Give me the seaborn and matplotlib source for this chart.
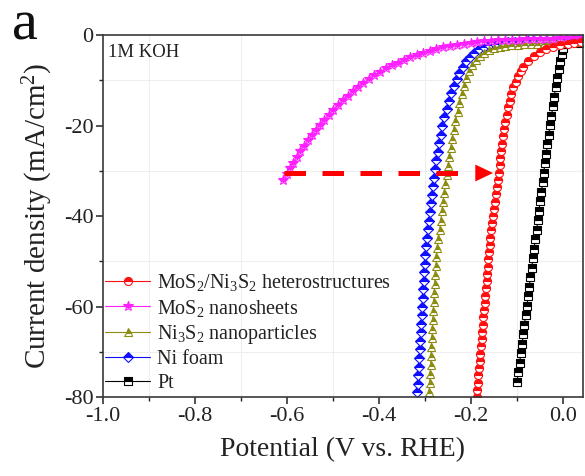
import matplotlib
matplotlib.use("Agg")
import matplotlib.pyplot as plt
from matplotlib.ticker import MultipleLocator
import pandas as pd
import seaborn as sns

# ---- HER polarisation curves in 1 M KOH (potential in V vs. RHE, current density in mA/cm2) ----
hetero_v = [-0.188, -0.187, -0.185, -0.184, -0.183, -0.181, -0.180, -0.178, -0.177, -0.176,
            -0.174, -0.173, -0.172, -0.170, -0.169, -0.168, -0.166, -0.165, -0.163, -0.162,
            -0.161, -0.159, -0.158, -0.156, -0.154, -0.152, -0.150, -0.148, -0.146, -0.144,
            -0.142, -0.140, -0.138, -0.136, -0.134, -0.132, -0.130, -0.128, -0.125, -0.122,
            -0.119, -0.116, -0.112, -0.108, -0.103, -0.098, -0.092, -0.086, -0.076, -0.064,
            -0.051, -0.037, -0.022, -0.006, 0.010, 0.025, 0.040]
hetero_j = [-80.0, -78.4, -76.8, -75.2, -73.6, -72.0, -70.4, -68.8, -67.2, -65.6,
            -64.0, -62.4, -60.8, -59.2, -57.6, -56.0, -54.4, -52.8, -51.2, -49.6,
            -48.0, -46.4, -44.8, -43.2, -41.6, -40.0, -38.4, -36.8, -35.2, -33.6,
            -32.0, -30.4, -28.8, -27.2, -25.6, -24.0, -22.4, -20.8, -19.2, -17.6,
            -16.0, -14.5, -13.0, -11.6, -10.3, -9.1, -8.0, -7.0, -5.8, -4.7,
            -3.8, -3.1, -2.6, -2.2, -1.9, -1.7, -1.5]

mos2_v = [-0.609, -0.601, -0.594, -0.587, -0.579, -0.571, -0.563, -0.555, -0.546, -0.537,
          -0.528, -0.519, -0.509, -0.499, -0.489, -0.479, -0.468, -0.457, -0.446, -0.434,
          -0.422, -0.410, -0.398, -0.385, -0.372, -0.359, -0.346, -0.332, -0.318, -0.304,
          -0.290, -0.276, -0.261, -0.246, -0.231, -0.216, -0.201, -0.186, -0.171, -0.156,
          -0.141, -0.126, -0.111, -0.096, -0.081, -0.066, -0.051, -0.036, -0.021, -0.006,
          0.009, 0.024, 0.039]
mos2_j = [-32.0, -30.7, -29.5, -28.2, -27.0, -25.7, -24.5, -23.3, -22.1, -21.0,
          -19.8, -18.7, -17.6, -16.5, -15.4, -14.4, -13.4, -12.4, -11.5, -10.6,
          -9.7, -8.9, -8.1, -7.4, -6.7, -6.1, -5.5, -4.9, -4.4, -3.9,
          -3.5, -3.1, -2.7, -2.4, -2.1, -1.9, -1.7, -1.5, -1.4, -1.3,
          -1.2, -1.1, -1.0, -1.0, -0.9, -0.9, -0.8, -0.8, -0.8, -0.7,
          -0.7, -0.7, -0.7]

ni3s2_v = [-0.291, -0.290, -0.289, -0.288, -0.287, -0.286, -0.285, -0.284, -0.283, -0.282,
           -0.281, -0.280, -0.279, -0.278, -0.276, -0.275, -0.273, -0.271, -0.268, -0.266,
           -0.263, -0.261, -0.258, -0.256, -0.253, -0.250, -0.247, -0.244, -0.241, -0.238,
           -0.234, -0.229, -0.225, -0.220, -0.215, -0.210, -0.204, -0.197, -0.189, -0.180,
           -0.171, -0.161, -0.150, -0.138, -0.125, -0.112, -0.098, -0.084, -0.070, -0.056,
           -0.042, -0.028, -0.014, 0.000, 0.014, 0.028, 0.040]
ni3s2_j = [-79.0, -77.0, -75.0, -73.0, -71.0, -69.0, -67.0, -65.0, -63.0, -61.0,
           -59.0, -57.0, -55.0, -53.0, -51.0, -49.0, -47.0, -45.0, -43.0, -41.0,
           -39.0, -37.0, -35.0, -33.0, -31.0, -29.0, -27.0, -25.0, -23.0, -21.0,
           -19.0, -17.0, -15.0, -13.0, -11.2, -9.5, -8.0, -6.7, -5.6, -4.7,
           -4.0, -3.4, -2.9, -2.6, -2.4, -2.2, -2.1, -2.0, -1.9, -1.9,
           -1.8, -1.8, -1.7, -1.7, -1.6, -1.6, -1.5]

nifoam_v = [-0.317, -0.316, -0.315, -0.313, -0.312, -0.311, -0.310, -0.309, -0.308, -0.307,
            -0.306, -0.305, -0.304, -0.303, -0.302, -0.300, -0.299, -0.297, -0.295, -0.293,
            -0.291, -0.289, -0.287, -0.285, -0.283, -0.280, -0.278, -0.275, -0.272, -0.269,
            -0.266, -0.262, -0.258, -0.253, -0.248, -0.243, -0.237, -0.231, -0.225, -0.218,
            -0.210, -0.202, -0.193, -0.183, -0.172, -0.160, -0.147, -0.133, -0.119, -0.105,
            -0.091, -0.077, -0.063, -0.049, -0.035, -0.021, -0.007, 0.007, 0.021, 0.035]
nifoam_j = [-79.0, -77.1, -75.2, -73.3, -71.4, -69.5, -67.6, -65.7, -63.8, -61.9,
            -60.0, -58.1, -56.2, -54.3, -52.4, -50.5, -48.6, -46.7, -44.8, -42.9,
            -41.0, -39.1, -37.2, -35.3, -33.4, -31.5, -29.6, -27.7, -25.8, -23.9,
            -22.0, -20.1, -18.2, -16.3, -14.5, -12.8, -11.2, -9.7, -8.3, -7.0,
            -5.8, -4.8, -3.9, -3.2, -2.6, -2.2, -1.9, -1.7, -1.6, -1.5,
            -1.5, -1.4, -1.4, -1.4, -1.3, -1.3, -1.3, -1.2, -1.2, -1.2]

pt_v = [-0.100, -0.097, -0.094, -0.092, -0.089, -0.086, -0.084, -0.081, -0.078, -0.076,
        -0.073, -0.071, -0.068, -0.065, -0.063, -0.060, -0.057, -0.055, -0.052, -0.050,
        -0.047, -0.044, -0.042, -0.039, -0.036, -0.034, -0.031, -0.028, -0.025, -0.022,
        -0.019, -0.016, -0.013, -0.009, -0.006, -0.003, 0.001, 0.005, 0.010, 0.016,
        0.023, 0.030, 0.037]
pt_j = [-76.6, -74.5, -72.4, -70.3, -68.2, -66.1, -64.0, -61.9, -59.8, -57.7,
        -55.6, -53.5, -51.4, -49.3, -47.2, -45.1, -43.0, -40.9, -38.8, -36.7,
        -34.6, -32.5, -30.4, -28.3, -26.2, -24.1, -22.0, -19.9, -17.8, -15.7,
        -13.6, -11.5, -9.5, -7.6, -5.8, -4.2, -2.9, -1.9, -1.3, -1.0,
        -1.1, -1.4, -1.8]

labels = ["MoS$_2$/Ni$_3$S$_2$ heterostructures", "MoS$_2$ nanosheets",
          "Ni$_3$S$_2$ nanoparticles", "Ni foam", "Pt"]
colors = ["#ff1010", "#ff20ff", "#8c8c10", "#1010ff", "#000000"]
markers = ["o", "*", "^", "D", "s"]
marker_sizes = [5.8, 7.0, 6.0, 5.6, 5.2]

# overpotential shift indicated at -30 mA/cm2
arrow_j = -30.5
arrow_start_v = -0.6065
arrow_dash_end_v = -0.228
arrow_head_base_v = -0.190
arrow_tip_v = -0.152

frames = []
for name, v, j in [(labels[0], hetero_v, hetero_j), (labels[1], mos2_v, mos2_j),
                   (labels[2], ni3s2_v, ni3s2_j), (labels[3], nifoam_v, nifoam_j),
                   (labels[4], pt_v, pt_j)]:
    frames.append(pd.DataFrame({"sample": name, "potential": v, "current": j}))
df = pd.concat(frames, ignore_index=True)

sns.set_style("ticks")
plt.rcParams["font.family"] = ["Liberation Serif", "DejaVu Serif"]
plt.rcParams["mathtext.fontset"] = "custom"
plt.rcParams["mathtext.rm"] = "Liberation Serif"
plt.rcParams["mathtext.it"] = "Liberation Serif:italic"
plt.rcParams["mathtext.bf"] = "Liberation Serif:bold"
plt.rcParams["mathtext.default"] = "regular"

fig = plt.figure(figsize=(5.85, 4.76), dpi=100)
ax = fig.add_axes([103 / 585, 1 - 397 / 476, 480 / 585, 362 / 476])

# light grid on the minor positions
ax.xaxis.set_major_locator(MultipleLocator(0.2))
ax.xaxis.set_minor_locator(MultipleLocator(0.1))
ax.yaxis.set_major_locator(MultipleLocator(20))
ax.yaxis.set_minor_locator(MultipleLocator(10))
ax.grid(which="minor", color="#eeeeee", linewidth=0.8)
ax.grid(which="major", visible=False)
ax.set_axisbelow(True)

handles = {}
for idx in [4, 3, 2, 1, 0]:
    name = labels[idx]
    sub = df[df["sample"] == name]
    sns.lineplot(data=sub, x="potential", y="current", sort=False, estimator=None,
                 color=colors[idx], marker=markers[idx], markersize=marker_sizes[idx],
                 fillstyle="top", markerfacecoloralt="white",
                 markeredgecolor=colors[idx], markeredgewidth=0.8,
                 linewidth=0.8, ax=ax, label=name)
    handles[name] = ax.lines[-1]

# dashed arrow
ax.plot([arrow_start_v, arrow_dash_end_v], [arrow_j, arrow_j], color="#ff0000",
        linewidth=3.6, linestyle=(0, (4.3, 3.3)), solid_capstyle="butt",
        dash_capstyle="butt", zorder=5)
ax.annotate("", xy=(arrow_tip_v, arrow_j), xytext=(arrow_head_base_v, arrow_j),
            arrowprops=dict(arrowstyle="-|>,head_length=0.4,head_width=0.19",
                            mutation_scale=32, color="#ff0000", lw=0,
                            shrinkA=0, shrinkB=0), zorder=5)

ax.set_xlim(-1.0, 0.0435)
ax.set_ylim(-80, 0)

for side in ["top", "right", "bottom", "left"]:
    ax.spines[side].set_visible(True)
    ax.spines[side].set_color("#3a3a3a")
    ax.spines[side].set_linewidth(1.2)

ax.tick_params(which="major", direction="out", length=5, width=1.1, labelsize=16,
               colors="#222222", pad=2, top=False, right=False)
ax.tick_params(which="minor", direction="out", length=3, width=1.0,
               colors="#222222", top=False, right=False)
ax.set_xticklabels([f"{t:.1f}" for t in ax.get_xticks()])
ax.set_yticks([0, -20, -40, -60, -80])
ax.set_yticklabels(["0", "-20", "-40", "-60", "-80"])

ax.set_xlabel("Potential (V vs. RHE)", fontsize=20, color="#222222", labelpad=8)
ax.set_ylabel("Current density (mA/cm$^2$)", fontsize=21, color="#222222", labelpad=6)

ax.text(0.0104, 0.939, "1M KOH", transform=ax.transAxes, fontsize=13.5,
        va="baseline", ha="left", color="#222222")
fig.text(0.020, 0.918, "a", fontsize=42, va="baseline", ha="left", color="#111111")

leg = ax.legend([handles[n] for n in labels], labels, loc="upper left",
                bbox_to_anchor=(0.004, 0.345), frameon=False, fontsize=14.5,
                handlelength=2.25, handletextpad=0.35, labelspacing=0.22,
                borderpad=0, borderaxespad=0)
for t in leg.get_texts():
    t.set_color("#222222")

fig.savefig("out.png", dpi=100)
